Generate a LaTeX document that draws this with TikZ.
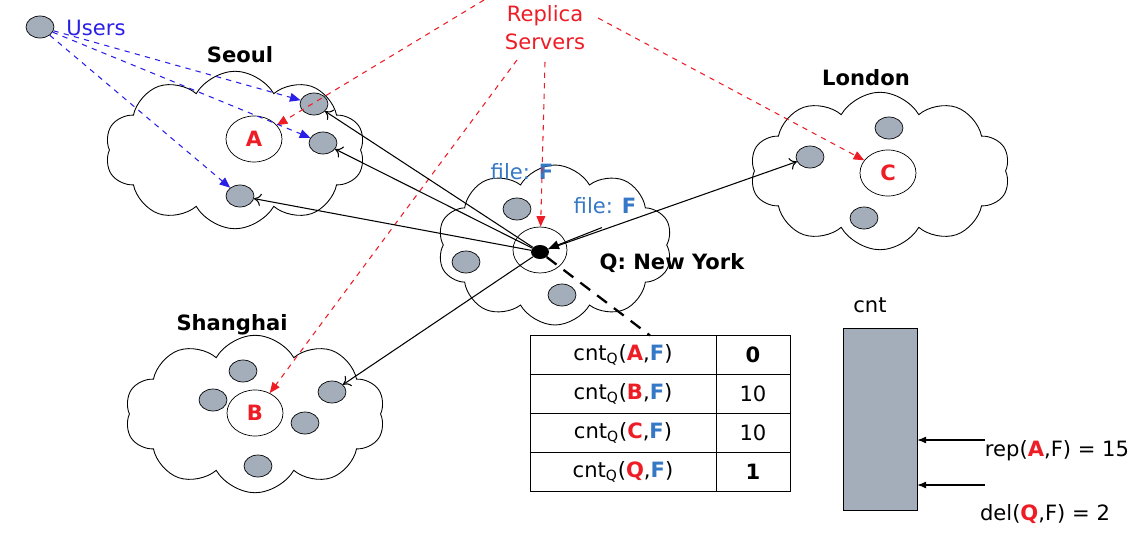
\documentclass[tikz,border=0pt,12pt]{standalone}
\usepackage{fontspec}
\setmainfont{DejaVu Sans}
\usetikzlibrary{positioning,shapes.symbols,shapes.geometric,arrows.meta}

\definecolor{hostgray}{HTML}{A3AEBA}
\definecolor{repred}{HTML}{EE1C25}
\definecolor{userblue}{HTML}{2A1FE6}
\definecolor{fileblue}{HTML}{3578C6}

\newcommand{\rf}[1]{\textcolor{repred}{\textbf{#1}}}
\newcommand{\ff}[1]{\textcolor{fileblue}{\textbf{#1}}}

\tikzset{
  site/.style={cloud,draw,fill=white,cloud puffs=10,cloud puff arc=120,cloud ignores aspect,minimum width=5.2cm,minimum height=3.15cm,line width=0.5pt},
  host/.style={ellipse,draw,fill=hostgray,minimum width=0.56cm,minimum height=0.44cm,inner sep=0pt},
  server/.style={ellipse,draw,fill=white,minimum width=1.12cm,minimum height=0.92cm,inner sep=0pt,text=repred,font=\bfseries},
  city/.style={font=\bfseries},
  cell/.style={draw,minimum height=0.78cm,inner sep=0pt,outer sep=0pt},
  replink/.style={repred,dashed,line width=0.6pt,-{Triangle[length=6pt,width=5pt]}},
  userlink/.style={userblue,dashed,line width=0.6pt,-{Triangle[length=6pt,width=5pt]}},
  netlink/.style={line width=0.6pt,-{To[length=4pt,width=7pt]}},
}

\begin{document}
\begin{tikzpicture}[x=0.02cm,y=-0.02cm]
\useasboundingbox (0,0) rectangle (1134,541);

\node[site](seoul) at (235,150){};
\node[site,minimum width=4.7cm,minimum height=3.2cm](ny) at (555,245){};
\node[site](london) at (880,171){};
\node[site](shanghai) at (255,414){};

\node[city](seoul-l) at (240,55){Seoul};
\node[city](london-l) at (866,78){London};
\node[city](shanghai-l) at (232,325){Shanghai};
\node[city](ny-l) at (672,263){Q: New York};

% users
\node[host](u) at (40,27){};
\node[text=userblue](users) at (96,28){Users};

% seoul
\node[host](s1) at (314,104){};
\node[host](s2) at (323,143){};
\node[host](s3) at (240,196){};
\node[server](A) at (254,139){A};

% new york
\node[host](n1) at (517,209){};
\node[host](n2) at (466,262){};
\node[host](n3) at (562,295){};
\node[ellipse,draw,minimum width=1.08cm,minimum height=0.92cm,inner sep=0pt](nyc) at (540,250){};
\node[ellipse,fill=black,minimum width=0.36cm,minimum height=0.28cm,inner sep=0pt](dot) at (540,252){};

% london
\node[host](l1) at (889,128){};
\node[host](l2) at (810,157){};
\node[host](l3) at (864,218){};
\node[server](C) at (888,173){C};

% shanghai
\node[host](h1) at (243,371){};
\node[host](h2) at (213,400){};
\node[host](h3) at (332,392){};
\node[host](h4) at (305,423){};
\node[host](h5) at (258,466){};
\node[server](B) at (255,413){B};

\node[text=fileblue](file1) at (522,172){file: \textbf{F}};
\node[text=fileblue](file2) at (605,206){file: \textbf{F}};

\node[text=repred,align=center,font=\fontsize{12}{16}\selectfont](rep) at (545,28){Replica\\Servers};
\coordinate (ra) at (484,0);
\coordinate (rb) at (517,60);
\coordinate (rn) at (545,62);
\coordinate (rc) at (598,18);

\draw[replink] (ra) -- (A);
\draw[replink] (rb) -- (B);
\draw[replink] (rn) -- (nyc);
\draw[replink] (rc) -- (C);

\draw[userlink] (u) -- (s1);
\draw[userlink] (u) -- (s2);
\draw[userlink] (u) -- (s3);

\draw[netlink] (dot) -- (s1);
\draw[netlink] (dot) -- (s2);
\draw[netlink] (dot) -- (s3);
\draw[netlink] (dot) -- (l2);
\draw[netlink] (dot) -- (h3);
\draw[line width=0.6pt,-{Triangle[length=6pt,width=5pt]}] ([xshift=-0.06cm,yshift=-0.12cm]file2.south) -- (dot);

% table
\node[cell,minimum width=3.72cm](c1) at (623,355){cnt\textsubscript{Q}(\rf{A},\ff{F})};
\node[cell,minimum width=3.72cm,below=0pt of c1](c2){cnt\textsubscript{Q}(\rf{B},\ff{F})};
\node[cell,minimum width=3.72cm,below=0pt of c2](c3){cnt\textsubscript{Q}(\rf{C},\ff{F})};
\node[cell,minimum width=3.72cm,below=0pt of c3](c4){cnt\textsubscript{Q}(\rf{Q},\ff{F})};
\node[cell,minimum width=1.48cm,right=0pt of c1](v1){\textbf{0}};
\node[cell,minimum width=1.48cm,right=0pt of c2](v2){10};
\node[cell,minimum width=1.48cm,right=0pt of c3](v3){10};
\node[cell,minimum width=1.48cm,right=0pt of c4](v4){\textbf{1}};

\draw[line width=1.3pt,dash pattern=on 7pt off 5pt] (dot) -- ([xshift=0.54cm]c1.north);

% counter
\node[draw,fill=hostgray,minimum width=1.48cm,minimum height=3.64cm](bar) at (880,419){};
\node(cnt-l) at (870,305){cnt};
\coordinate (repin) at (985,440);
\coordinate (delin) at (985,485);
\draw[line width=0.6pt,-{Latex[length=5pt,width=4pt]}] (repin) -- (repin -| bar.east);
\draw[line width=0.6pt,-{Latex[length=5pt,width=4pt]}] (delin) -- (delin -| bar.east);
\node(rep-l) at (1057,451){rep(\rf{A},F) = 15};
\node(del-l) at (1045,514){del(\rf{Q},F) = 2};

\end{tikzpicture}
\end{document}
